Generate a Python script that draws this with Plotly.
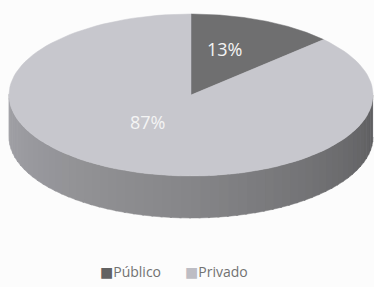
import numpy as np
import plotly.graph_objects as go

categories = ["Público", "Privado"]
values = [13, 87]
labels = ["13%", "87%"]

top_colors = ["#6f6f70", "#c7c7cd"]
legend_colors = ["#626262", "#bdbdc4"]

# geometry (style)
CX, CY, RX, RY, DEPTH = 191, 95, 182, 81, 42
label_k = [(0.46, 0.62), (0.60, 0.36)]
legend_x = [130, 216]
legend_y = 271

def pt(theta_deg, dy=0.0):
    t = np.radians(theta_deg)
    return CX + RX * np.sin(t), CY - RY * np.cos(t) + dy

fig = go.Figure()

total = sum(values)
angles = np.cumsum([0] + [v / total * 360 for v in values])

def shade(theta):
    f = (theta - 90) / 180.0
    c0 = np.array([0x5c, 0x5c, 0x5e])
    c1 = np.array([0x86, 0x86, 0x89])
    c2 = np.array([0xa3, 0xa3, 0xa8])
    c = c0 + (c1 - c0) * (f / 0.5) if f < 0.5 else c1 + (c2 - c1) * ((f - 0.5) / 0.5)
    return "rgb(%d,%d,%d)" % tuple(c.astype(int))

edges = np.linspace(90, 270, 61)
for a, b in zip(edges[:-1], edges[1:]):
    th = np.linspace(a, b + 0.6, 4)
    xs_t, ys_t = pt(th)
    xs_b, ys_b = pt(th[::-1], DEPTH)
    xs = np.concatenate([xs_t, xs_b])
    ys = np.concatenate([ys_t, ys_b])
    col = shade((a + b) / 2)
    fig.add_trace(go.Scatter(x=xs, y=ys, fill="toself", mode="lines",
                             line=dict(width=0.5, color=col), fillcolor=col,
                             showlegend=False, hoverinfo="skip"))

for i, cat in enumerate(categories):
    th = np.linspace(angles[i], angles[i + 1], 120)
    xs, ys = pt(th)
    xs = np.concatenate([[CX], xs, [CX]])
    ys = np.concatenate([[CY], ys, [CY]])
    fig.add_trace(go.Scatter(x=xs, y=ys, fill="toself", mode="lines",
                             line=dict(width=0.5, color=top_colors[i]),
                             fillcolor=top_colors[i], showlegend=False,
                             hoverinfo="skip", name=cat))

for i, lab in enumerate(labels):
    mid = np.radians((angles[i] + angles[i + 1]) / 2)
    kx, ky = label_k[i]
    lx = CX + RX * kx * np.sin(mid)
    ly = CY - RY * ky * np.cos(mid)
    fig.add_annotation(x=lx, y=ly, text=lab, showarrow=False,
                       font=dict(family="Open Sans", size=18, color="#f4f4f4"))

# legend
for i, cat in enumerate(categories):
    fig.add_annotation(
        x=legend_x[i], y=legend_y, showarrow=False, xanchor="center",
        text="<span style='color:%s;font-family:DejaVu Sans;font-size:14px'>■</span>%s" % (legend_colors[i], cat),
        font=dict(family="Open Sans", size=14, color="#727272"))

fig.update_layout(
    width=374, height=287,
    margin=dict(l=0, r=0, t=0, b=0),
    paper_bgcolor="#fcfcfc", plot_bgcolor="#fcfcfc",
    xaxis=dict(range=[0, 374], visible=False, fixedrange=True),
    yaxis=dict(range=[287, 0], visible=False, fixedrange=True),
    showlegend=False,
)

fig.write_html("out.html", config={"displayModeBar": False},
               post_script="document.body.style.margin='0';document.body.style.overflow='hidden';")
